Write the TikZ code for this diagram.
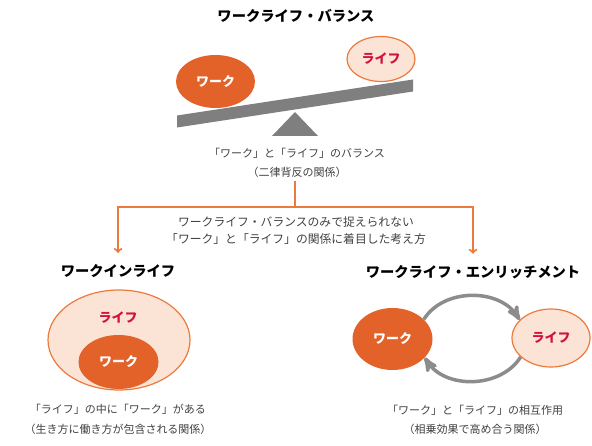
\documentclass[tikz,border=0pt]{standalone}
\usepackage{fontspec}
\setmainfont{Noto Sans CJK JP}
\usetikzlibrary{arrows}
\usetikzlibrary{shapes.geometric}

\definecolor{workorange}{HTML}{E2622A}
\definecolor{lifepink}{HTML}{FBE3D5}
\definecolor{lifeline}{HTML}{EC7A3C}
\definecolor{lifered}{HTML}{D2123C}
\definecolor{beamgray}{HTML}{7F7F7F}
\definecolor{capgray}{HTML}{404040}

\tikzset{
 work/.style={ellipse, fill=workorange, inner sep=0, text=white, font=\fontsize{13}{13}\selectfont\bfseries},
 life/.style={ellipse, fill=lifepink, draw=lifeline, line width=1.2, inner sep=0, text=lifered, font=\fontsize{13}{13}\selectfont\bfseries},
 lifetext/.style={text=lifered, font=\fontsize{13}{13}\selectfont\bfseries},
 title/.style={font=\fontsize{14.3}{15}\selectfont\bfseries},
 caption/.style={text=capgray, font=\fontsize{11}{13}\selectfont},
 note/.style={text=capgray, font=\fontsize{11.8}{13}\selectfont},
 flow/.style={draw=lifeline, line width=2},
 swap/.style={draw=black!45, line width=3.5, -stealth'},
}

\begin{document}
\begin{tikzpicture}[x=1pt,y=-1pt]
\useasboundingbox (0,0) rectangle (592,446);
% balance
\node[title] (tbal) at (296,16) {ワークライフ・バランス};
\fill[beamgray] (177,115.5)--(413,79.5)--(413,91.5)--(177,127.5)--cycle;
\fill[beamgray] (295,112)--(318,136)--(272,136)--cycle;
\node[work, minimum width=79, minimum height=53] (bwork) at (215.5,81.5) {ワーク};
\node[life, minimum width=68, minimum height=45] (blife) at (381,59) {ライフ};
\node[caption] (bcap) at (297,153) {「ワーク」と「ライフ」のバランス};
\node[caption] (brel) at (297,172) {（二律背反の関係）};

% split
\coordinate (split) at (295,207);
\node[note] (nline1) at (296,222) {ワークライフ・バランスのみで捉えられない};
\node[note] (nline2) at (296,239) {「ワーク」と「ライフ」の関係に着目した考え方};
\node[title] (tin) at (118,271) {ワークインライフ};
\node[title] (ten) at (473,272) {ワークライフ・エンリッチメント};
\draw[flow] (split |- brel.south) -- (split);
\draw[flow,->,shorten >=8] (split) -| (tin.north);
\draw[flow,->,shorten >=8] (split) -| (ten.north);

% work in life
\node[life, minimum width=142, minimum height=100] (ilife) at (119,340) {};
\node[work, minimum width=80, minimum height=54] (iwork) at (118.5,362) {ワーク};
\node[lifetext] (ilifetext) at (118,318) {ライフ};
\node[caption] (icap) at (118,409) {「ライフ」の中に「ワーク」がある};
\node[caption] (irel) at (118,429) {（生き方に働き方が包含される関係）};

% enrichment
\node[work, minimum width=80, minimum height=62] (ework) at (392.5,339) {ワーク};
\node[life, minimum width=78, minimum height=58] (elife) at (551,338) {ライフ};
\draw[swap] (ework.32) to[out=58,in=122] (elife.150);
\draw[swap] (elife.212) to[out=-122,in=-58] (ework.-30);
\node[caption] (ecap) at (475,410) {「ワーク」と「ライフ」の相互作用};
\node[caption] (erel) at (475,429) {（相乗効果で高め合う関係）};
\end{tikzpicture}
\end{document}
